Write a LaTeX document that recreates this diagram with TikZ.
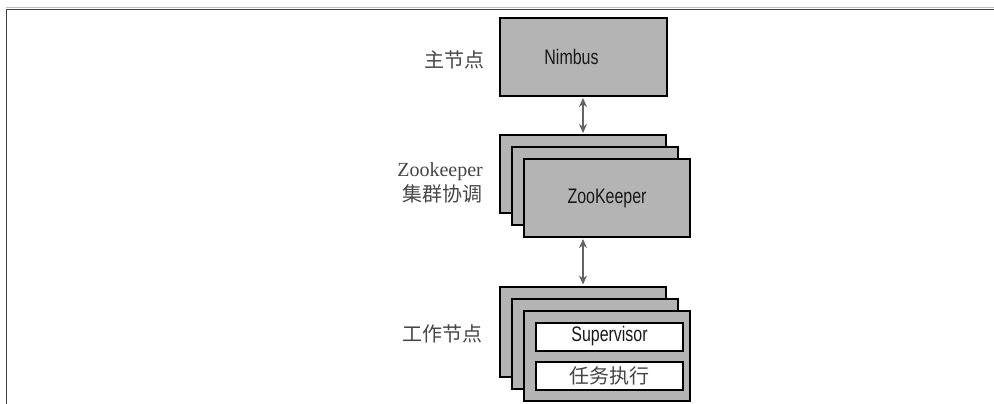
\documentclass[tikz,border=0pt]{standalone}
\usepackage{fontspec}
\setmainfont{Liberation Serif}
\newfontfamily\cjk{Noto Sans CJK SC}
\newfontfamily\cond[FakeStretch=0.76]{Liberation Sans}
\usetikzlibrary{arrows.meta}
\begin{document}
\begin{tikzpicture}[x=1pt,y=-1pt,
  box/.style={draw=black,line width=2pt,fill=boxgray,inner sep=0pt,
    font=\cond\fontsize{21}{24}\selectfont,text=black!90},
  whitebox/.style={draw=black,line width=2pt,fill=white,inner sep=0pt,
    minimum width=147,minimum height=28},
  lbl/.style={anchor=east,text=labelgray,align=right,inner sep=0pt},
  link/.style={draw=arrowgray,line width=2.2pt,{Stealth[length=9pt,width=8pt]}-{Stealth[length=9pt,width=8pt]},shorten <=1pt,shorten >=1pt}]
\definecolor{boxgray}{RGB}{180,180,180}
\definecolor{arrowgray}{RGB}{100,100,100}
\definecolor{labelgray}{RGB}{70,70,70}
\definecolor{framegray}{RGB}{64,64,64}
\useasboundingbox (0,0) rectangle (994,404);
% frame
\draw[black!25,line width=1pt] (6,7.5) -- (994,7.5);
\draw[framegray,line width=1.6pt] (6.5,9.5) -- (994,9.5);
\draw[framegray,line width=1.6pt] (6.5,9.5) -- (6.5,404);
% Nimbus
\node[box,minimum width=167,minimum height=78] (nimbus) at (583.5,57) {\hspace*{-24pt}Nimbus};
\node[lbl,font=\cjk\fontsize{20}{22}\selectfont] (lmaster) at (485,60) {主节点};
% ZooKeeper stack
\node[box,minimum width=166,minimum height=78] (zka) at (583,174) {};
\node[box,minimum width=166,minimum height=78] (zkb) at (595,186) {};
\node[box,minimum width=166,minimum height=78] (zkc) at (607,198) {\raisebox{-3pt}{ZooKeeper}};
\node[lbl] (lzk) at (483,183) {{\fontsize{20}{24}\selectfont Zookeeper}\\[3pt]{\cjk\fontsize{20}{24}\selectfont 集群协调}};
% Worker stack
\node[box,minimum width=166,minimum height=90] (wka) at (583,331.5) {};
\node[box,minimum width=166,minimum height=90] (wkb) at (595,343.5) {};
\node[box,minimum width=166,minimum height=90] (wkc) at (607,355.5) {};
\node[whitebox,font=\cond\fontsize{21}{24}\selectfont,text=black!90] (sup) at (609.5,336.5) {Supervisor};
\node[whitebox,font=\cjk\fontsize{20}{22}\selectfont,text=labelgray] (task) at (609.5,376) {任务执行};
\node[lbl,font=\cjk\fontsize{20}{22}\selectfont] (lworker) at (483,334) {工作节点};
% connectors
\coordinate (zkbot) at (zkc.south -| zka.north);
\draw[link] (nimbus.south -| zka.north) -- (zka.north);
\draw[link] (zkbot) -- (wka.north);
\end{tikzpicture}
\end{document}
